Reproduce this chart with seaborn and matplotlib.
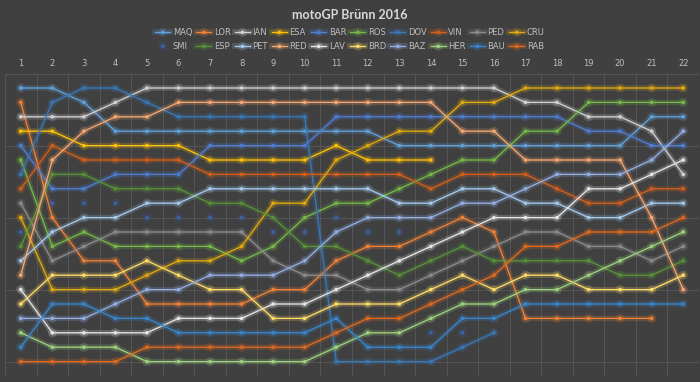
import numpy as np
import pandas as pd
import matplotlib
matplotlib.use("Agg")
import matplotlib.pyplot as plt
import matplotlib.patheffects as pe
import seaborn as sns

# running order per rider, lap 1 (grid) .. lap 22; None = no longer classified
laps = list(range(1, 23))
riders = ["MAQ", "LOR", "IAN", "ESA", "BAR", "ROS", "DOV", "VIN", "PED", "CRU",
          "SMI", "ESP", "PET", "RED", "LAV", "BRD", "BAZ", "HER", "BAU", "RAB"]

N = None
maq = [1, 1, 2, 4, 4, 4, 4, 4, 4, 4, 4, 4, 5, 5, 5, 5, 5, 5, 5, 5, 3, 3]
lor = [2, 10, 13, 13, 16, 16, 16, 16, 15, 15, 13, 12, 12, 11, 10, 11, 17, 17, 17, 17, 17, N]
ian = [3, 3, 3, 2, 1, 1, 1, 1, 1, 1, 1, 1, 1, 1, 1, 1, 2, 2, 3, 3, 4, 7]
esa = [4, 4, 5, 5, 5, 5, 6, 6, 6, 6, 5, 6, 6, 6, N, N, N, N, N, N, N, N]
bar = [5, 8, 8, 7, 7, 7, 5, 5, 5, 5, 3, 3, 3, 3, 3, 3, 3, 3, 4, 4, 5, 5]
ros = [6, 12, 11, 12, 12, 12, 12, 13, 12, 10, 9, 9, 8, 7, 6, 6, 4, 4, 2, 2, 2, 2]
dov = [7, 2, 1, 1, 2, 3, 3, 3, 3, 3, 20, 20, 20, 20, 19, 18, N, N, N, N, N, N]
vin = [8, 5, 6, 6, 6, 6, 7, 7, 7, 7, 7, 7, 7, 8, 7, 7, 7, 8, 9, 9, 8, 8]
ped = [9, 13, 12, 11, 11, 11, 11, 11, 13, 14, 14, 15, 15, 14, 13, 12, 11, 11, 12, 12, 13, 12]
cru = [10, 15, 15, 15, 14, 13, 13, 12, 9, 9, 6, 5, 4, 4, 2, 2, 1, 1, 1, 1, 1, 1]
smi = [11, 9, 9, 9, 10, 10, 10, 10, 11, 11, 10, 11, 11, 18, 18, N, N, N, N, N, N, N]
esp = [12, 7, 7, 8, 8, 8, 9, 9, 10, 12, 12, 13, 14, 13, 12, 13, 13, 13, 13, 14, 14, 13]
pet = [13, 11, 10, 10, 9, 9, 8, 8, 8, 8, 8, 8, 9, 9, 8, 8, 9, 9, 10, 10, 9, 9]
red = [14, 6, 4, 3, 3, 2, 2, 2, 2, 2, 2, 2, 2, 2, 4, 4, 6, 6, 6, 6, 10, 15]
lav = [15, 18, 18, 18, 18, 17, 17, 17, 16, 16, 15, 14, 13, 12, 11, 10, 10, 10, 8, 8, 7, 6]
brd = [16, 14, 14, 14, 13, 14, 15, 15, 17, 17, 16, 16, 16, 15, 14, 15, 14, 14, 15, 15, 15, 14]
baz = [17, 17, 17, 16, 15, 15, 14, 14, 14, 13, 11, 10, 10, 10, 9, 9, 8, 7, 7, 7, 6, 4]
her = [18, 19, 19, 19, 20, 20, 20, 20, 20, 20, 19, 18, 18, 17, 16, 16, 15, 15, 14, 13, 12, 11]
bau = [19, 16, 16, 17, 17, 18, 18, 18, 18, 18, 17, 19, 19, 19, 17, 17, 16, 16, 16, 16, 16, 16]
rab = [20, 20, 20, 20, 19, 19, 19, 19, 19, 19, 18, 17, 17, 16, 15, 14, 12, 12, 11, 11, 11, 10]

colors = ["#62a2dc", "#f08238", "#d2d2d2", "#ffc20a", "#4f7fd2", "#76b84a",
          "#3a78b8", "#d2601c", "#8c8c8c", "#e0aa10", "#3c64aa", "#58913a",
          "#a4cbee", "#f6a872", "#e6e6e6", "#ffdc6a", "#93afe4", "#9fd27e",
          "#3a86cc", "#df6a20"]

positions = [maq, lor, ian, esa, bar, ros, dov, vin, ped, cru,
             smi, esp, pet, red, lav, brd, baz, her, bau, rab]
df = pd.DataFrame({r: pd.to_numeric(pd.Series(p, dtype=object)) for r, p in zip(riders, positions)})
df["lap"] = laps
long = df.melt(id_vars="lap", var_name="rider", value_name="pos").dropna()

bg = "#404040"
fig = plt.figure(figsize=(7.0, 3.82), dpi=100, facecolor=bg)
ax = fig.add_axes([5 / 700, 1 - 376 / 382, 694 / 700, 302.4 / 382])
ax.set_facecolor(bg)

for r, c in zip(riders, colors):
    sub = long[long["rider"] == r]
    ls = "none" if r == "SMI" else "-"
    sns.lineplot(data=sub, x="lap", y="pos", ax=ax, color=c, linestyle=ls,
                 linewidth=0.95, marker="o", markersize=2.5, markeredgewidth=0,
                 estimator=None, sort=False, label=r,
                 path_effects=[pe.Stroke(linewidth=4.0, foreground=c, alpha=0.2), pe.Normal()])

ax.set_xlim(0.5, 22.5)
ax.set_ylim(21, 0)
ax.set_xticks(laps)
ax.set_xticks(np.arange(0.5, 23, 1), minor=True)
ax.set_yticks([0, 5, 10, 15, 20])
ax.set_yticklabels([])
ax.xaxis.tick_top()
ax.tick_params(axis="x", which="both", length=0, pad=4, labelsize=6, labelcolor="#bfbfbf")
ax.tick_params(axis="y", length=0)
ax.grid(False)
ax.grid(True, axis="x", which="minor", color="#585858", linewidth=0.6)
ax.grid(True, axis="y", which="major", color="#585858", linewidth=0.6)
ax.set_xlabel("")
ax.set_ylabel("")
for s in ax.spines.values():
    s.set_visible(False)

handles, labels = ax.get_legend_handles_labels()
ax.get_legend().remove()
# legend fills column by column, so interleave to get the two rows in order
order = [i + 10 * k for i in range(10) for k in range(2)]
leg = fig.legend([handles[i] for i in order], [labels[i] for i in order], ncol=10,
                 loc="upper center", bbox_to_anchor=(0.5, 0.926),
                 frameon=False, fontsize=6, handlelength=1.8, handletextpad=0.3,
                 columnspacing=0.5, labelspacing=0.6, borderpad=0, borderaxespad=0)
for t in leg.get_texts():
    t.set_color("#bfbfbf")

fig.text(0.5, 1 - 15 / 382, "motoGP Brünn 2016", ha="center", va="center",
         fontsize=9, fontweight="bold", color="#d9d9d9", family="Lato")

fig.savefig("out.png", dpi=100, facecolor=bg)
